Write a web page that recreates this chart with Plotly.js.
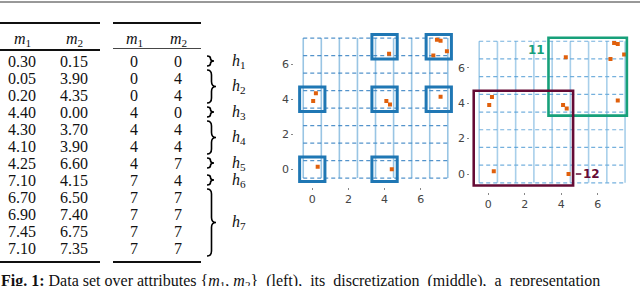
<!DOCTYPE html>
<html><head><meta charset="utf-8">
<script src="https://cdn.plot.ly/plotly-3.0.1.min.js"></script>
<style>html,body{margin:0;padding:0;background:#fff;}#chart{width:640px;height:286px;}</style>
</head><body><div id="chart"></div>
<script>
// ---- data ----
const m1 = [0.30, 0.05, 0.20, 4.40, 4.30, 4.10, 4.25, 7.10, 6.70, 6.90, 7.45, 7.10];
const m2 = [0.15, 3.90, 4.35, 0.00, 3.70, 3.90, 6.60, 4.15, 6.50, 7.40, 6.75, 7.35];
const d1 = [0, 0, 0, 4, 4, 4, 4, 7, 7, 7, 7, 7];
const d2 = [0, 4, 4, 0, 4, 4, 7, 4, 7, 7, 7, 7];
const hLabels = ['1', '2', '3', '4', '5', '6', '7'];
const hFirstRow = [0, 1, 3, 4, 6, 7, 8];
const hLastRow  = [0, 2, 3, 5, 6, 7, 11];
const regionNames = ['11', '12'];
const regionX0 = [3.3, -0.8];
const regionX1 = [7.6, 4.65];
const regionY0 = [3.3, -0.65];
const regionY1 = [7.7, 4.7];
const gridPos = [-0.5, 0.5, 1.5, 2.5, 3.5, 4.5, 5.5, 6.5, 7.5];
const tickVals = [0, 2, 4, 6];
const headers = ['1', '2'];

// ---- style ----
const W = 640, H = 286;
const ORANGE = '#e0600c';
const BLUE = '#1f77b4';
const MAROON = '#650b35';
const GREEN = '#17a07a';
const SERIF = 'Liberation Serif, DejaVu Serif, serif';
const tfont = {family: SERIF, size: 16, color: '#111'};

const shapes = [];
const ann = [];
const ruleTraces = [];

// horizontal rules: drawn as line traces in the pixel frame (x3/y3) plus paper shapes
const px = x => x / W, py = y => 1 - y / H;
const hline = (x0, x1, y, w, c) => {
  ruleTraces.push({x:[x0, x1], y:[y, y], xaxis:'x3', yaxis:'y3', type:'scatter', mode:'lines',
                   line:{color:c || '#000', width:w}, hoverinfo:'skip', cliponaxis:false});
  shapes.push({type:'line', xref:'paper', yref:'paper', x0:px(x0), x1:px(x1), y0:py(y), y1:py(y),
               line:{color:c || '#000', width:w}});
};

// page top rule
hline(0, 640, 2, 1, '#777');

// table rules
hline(0, 100, 23, 1.6); hline(113, 201, 23, 1.6);
hline(0, 100, 50, 1.3); hline(113, 201, 48.5, 0.9, '#444');
hline(0, 100, 262, 1.6); hline(113, 201, 262, 1.6);

// headers
const colX = [22, 74, 134, 178];
[0,1].forEach(k => {
  ann.push({xref:'x3', yref:'y3', x:colX[k], y:39, text:'<i>m</i><sub>'+headers[k]+'</sub>', showarrow:false, font:tfont});
  ann.push({xref:'x3', yref:'y3', x:colX[k+2], y:39, text:'<i>m</i><sub>'+headers[k]+'</sub>', showarrow:false, font:tfont});
});
const rowY = i => 61 + i * 17;
m1.forEach((v, i) => {
  ann.push({xref:'x3', yref:'y3', x:colX[0], y:rowY(i), text:v.toFixed(2), showarrow:false, font:tfont});
  ann.push({xref:'x3', yref:'y3', x:colX[1], y:rowY(i), text:m2[i].toFixed(2), showarrow:false, font:tfont});
  ann.push({xref:'x3', yref:'y3', x:colX[2], y:rowY(i), text:String(d1[i]), showarrow:false, font:tfont});
  ann.push({xref:'x3', yref:'y3', x:colX[3], y:rowY(i), text:String(d2[i]), showarrow:false, font:tfont});
});

// braces
function bracePath(x, y0, y1, w) {
  const ym = (y0 + y1) / 2, q = w / 2, r = Math.min(5, (y1 - y0) / 4);
  return `M ${x},${y0} Q ${x+q},${y0} ${x+q},${y0+r} L ${x+q},${ym-r} Q ${x+q},${ym} ${x+w},${ym} ` +
         `Q ${x+q},${ym} ${x+q},${ym+r} L ${x+q},${y1-r} Q ${x+q},${y1} ${x},${y1}`;
}
hLabels.forEach((h, k) => {
  const a = hFirstRow[k], b = hLastRow[k];
  const single = a === b;
  const y0 = rowY(a) - (single ? 5 : 8), y1 = rowY(b) + (single ? 5 : 8);
  shapes.push({type:'path', xref:'x3', yref:'y3', path:bracePath(207, y0, y1, single ? 7 : 9),
               line:{color:'#000', width:1.6}});
  ann.push({xref:'x3', yref:'y3', x:230, xanchor:'left', y:(rowY(a)+rowY(b))/2, text:'<i>h</i><sub>'+h+'</sub>',
            showarrow:false, font:tfont});
});

// caption (cut at the bottom edge, as in the reference)
ann.push({xref:'x3', yref:'y3', x:0, xanchor:'left', y:271, yanchor:'top', borderpad:0,
  text:'<b>Fig. 1:</b> Data set over attributes {<i>m</i><sub>1</sub>, <i>m</i><sub>2</sub>}  (left),  its  discretization  (middle),  a  representation',
  showarrow:false, font:{family:SERIF, size:16, color:'#111'}});

// grids for both scatter subplots
function addGrid(xr, yr, vcol, hcol) {
  gridPos.forEach(g => {
    shapes.push({type:'line', xref:xr, yref:yr, layer:'below', x0:g, x1:g, y0:gridPos[0], y1:gridPos[gridPos.length-1],
                 line:{color:vcol, width:1.6}});
    shapes.push({type:'line', xref:xr, yref:yr, layer:'below', y0:g, y1:g, x0:gridPos[0], x1:gridPos[gridPos.length-1],
                 line:{color:hcol, width:1.2, dash:'4px,3px'}});
  });
}
addGrid('x', 'y', 'rgba(70,150,205,0.55)', 'rgba(40,120,190,0.8)');
addGrid('x2', 'y2', 'rgba(110,175,220,0.6)', 'rgba(70,150,210,0.75)');

// discretized cell boxes (middle)
const seen = new Set();
d1.forEach((v, i) => {
  const key = v + ',' + d2[i];
  if (seen.has(key)) return; seen.add(key);
  shapes.push({type:'rect', xref:'x', yref:'y', x0:v-0.7, x1:v+0.7, y0:d2[i]-0.7, y1:d2[i]+0.7,
               line:{color:BLUE, width:3}});
});

// regions (right)
const rcol = [GREEN, MAROON];
regionNames.forEach((n, k) => {
  shapes.push({type:'rect', xref:'x2', yref:'y2', x0:regionX0[k], x1:regionX1[k], y0:regionY0[k], y1:regionY1[k],
               line:{color:rcol[k], width:2.6}});
});
ann.push({xref:'x2', yref:'y2', x:regionX0[0]-0.1, xanchor:'right', y:regionY1[0]-0.7, text:'<b>'+regionNames[0]+'</b>',
          showarrow:false, font:{family:'DejaVu Sans, sans-serif', size:12, color:GREEN}});
shapes.push({type:'line', xref:'x2', yref:'y2', x0:regionX1[1]+0.15, x1:regionX1[1]+0.45, y0:0, y1:0, line:{color:MAROON, width:1.5}});
ann.push({xref:'x2', yref:'y2', x:regionX1[1]+0.45, xanchor:'left', y:0, text:'<b>'+regionNames[1]+'</b>',
          showarrow:false, font:{family:'DejaVu Sans, sans-serif', size:12, color:MAROON}});

const tickFont = {family:'DejaVu Sans, sans-serif', size:11, color:'#444'};
const axBase = {range:[-1, 8], tickvals:tickVals, ticks:'outside', ticklen:2, tickwidth:1, tickcolor:'#888',
                showgrid:false, zeroline:false, showline:false, tickfont:tickFont, fixedrange:true};

const traces = [
  {x:m1, y:m2, xaxis:'x', yaxis:'y', type:'scatter', mode:'markers',
   marker:{symbol:'square', size:4, color:ORANGE}, hoverinfo:'skip'},
  {x:m1, y:m2, xaxis:'x2', yaxis:'y2', type:'scatter', mode:'markers',
   marker:{symbol:'square', size:4, color:ORANGE}, hoverinfo:'skip'}
].concat(ruleTraces);

const layout = {
  width:W, height:H, margin:{l:0, r:0, t:0, b:0}, showlegend:false,
  paper_bgcolor:'#fff', plot_bgcolor:'rgba(0,0,0,0)',
  xaxis:Object.assign({}, axBase, {domain:[0.4597, 0.7138], anchor:'y'}),
  yaxis:Object.assign({}, axBase, {domain:[0.3469, 0.8976], anchor:'x'}),
  xaxis2:Object.assign({}, axBase, {domain:[0.7345, 0.9909], anchor:'y2'}),
  yaxis2:Object.assign({}, axBase, {domain:[0.3297, 0.8867], anchor:'x2'}),
  xaxis3:{domain:[0, 1], range:[0, W], visible:false, fixedrange:true, anchor:'y3'},
  yaxis3:{domain:[0, 1], range:[H, 0], visible:false, fixedrange:true, anchor:'x3'},
  shapes:shapes, annotations:ann
};
Plotly.newPlot('chart', traces, layout, {staticPlot:true, displayModeBar:false});
</script></body></html>
